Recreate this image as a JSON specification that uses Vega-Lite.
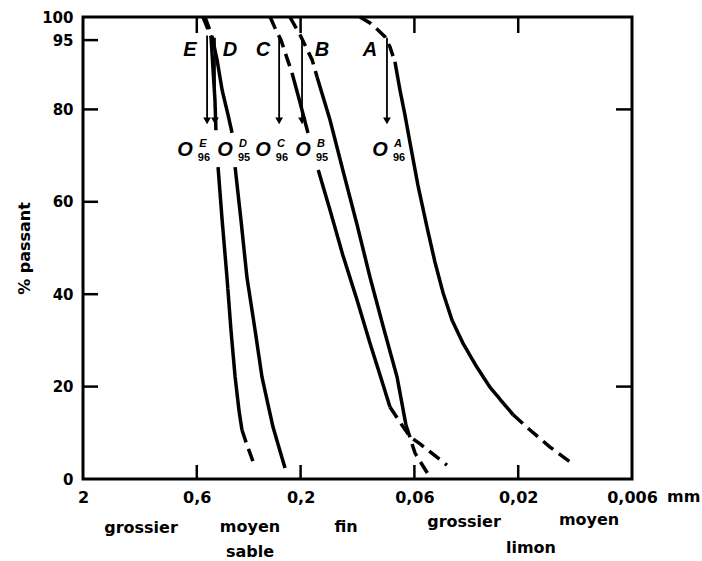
{
  "$schema": "https://vega.github.io/schema/vega-lite/v6.json",
  "width": 549,
  "height": 462,
  "autosize": {"type": "none"},
  "padding": {"left": 83, "top": 17, "right": 70, "bottom": 82},
  "background": "white",
  "config": {
    "view": {"stroke": "black", "strokeWidth": 3},
    "font": "DejaVu Sans"
  },
  "datasets": {
    "courbes": [
      {"courbe": "E", "segment": "E1", "trace": "extrapolée", "diametre": 0.562, "passant": 100},
      {"courbe": "E", "segment": "E1", "trace": "extrapolée", "diametre": 0.538, "passant": 97.8},
      {"courbe": "E", "segment": "E1", "trace": "extrapolée", "diametre": 0.516, "passant": 95.7},
      {"courbe": "E", "segment": "E2", "trace": "mesurée", "diametre": 0.516, "passant": 95.7},
      {"courbe": "E", "segment": "E2", "trace": "mesurée", "diametre": 0.505, "passant": 88.5},
      {"courbe": "E", "segment": "E2", "trace": "mesurée", "diametre": 0.495, "passant": 82.0},
      {"courbe": "E", "segment": "E2", "trace": "mesurée", "diametre": 0.490, "passant": 75.5},
      {"courbe": "E", "segment": "E3", "trace": "mesurée", "diametre": 0.479, "passant": 67.5},
      {"courbe": "E", "segment": "E3", "trace": "mesurée", "diametre": 0.459, "passant": 56.1},
      {"courbe": "E", "segment": "E3", "trace": "mesurée", "diametre": 0.436, "passant": 43.7},
      {"courbe": "E", "segment": "E3", "trace": "mesurée", "diametre": 0.418, "passant": 32.3},
      {"courbe": "E", "segment": "E3", "trace": "mesurée", "diametre": 0.400, "passant": 22.1},
      {"courbe": "E", "segment": "E3", "trace": "mesurée", "diametre": 0.384, "passant": 14.9},
      {"courbe": "E", "segment": "E3", "trace": "mesurée", "diametre": 0.372, "passant": 10.6},
      {"courbe": "E", "segment": "E4", "trace": "extrapolée", "diametre": 0.372, "passant": 10.6},
      {"courbe": "E", "segment": "E4", "trace": "extrapolée", "diametre": 0.353, "passant": 7.4},
      {"courbe": "E", "segment": "E4", "trace": "extrapolée", "diametre": 0.324, "passant": 2.6},

      {"courbe": "D", "segment": "D1", "trace": "extrapolée", "diametre": 0.550, "passant": 100},
      {"courbe": "D", "segment": "D1", "trace": "extrapolée", "diametre": 0.511, "passant": 95.9},
      {"courbe": "D", "segment": "D2", "trace": "mesurée", "diametre": 0.511, "passant": 95.9},
      {"courbe": "D", "segment": "D2", "trace": "mesurée", "diametre": 0.484, "passant": 90.7},
      {"courbe": "D", "segment": "D2", "trace": "mesurée", "diametre": 0.459, "passant": 84.2},
      {"courbe": "D", "segment": "D2", "trace": "mesurée", "diametre": 0.431, "passant": 78.8},
      {"courbe": "D", "segment": "D2", "trace": "mesurée", "diametre": 0.413, "passant": 74.9},
      {"courbe": "D", "segment": "D3", "trace": "mesurée", "diametre": 0.400, "passant": 67.5},
      {"courbe": "D", "segment": "D3", "trace": "mesurée", "diametre": 0.376, "passant": 56.1},
      {"courbe": "D", "segment": "D3", "trace": "mesurée", "diametre": 0.353, "passant": 43.7},
      {"courbe": "D", "segment": "D3", "trace": "mesurée", "diametre": 0.324, "passant": 32.3},
      {"courbe": "D", "segment": "D3", "trace": "mesurée", "diametre": 0.301, "passant": 22.1},
      {"courbe": "D", "segment": "D3", "trace": "mesurée", "diametre": 0.282, "passant": 16.0},
      {"courbe": "D", "segment": "D3", "trace": "mesurée", "diametre": 0.268, "passant": 11.3},
      {"courbe": "D", "segment": "D3", "trace": "mesurée", "diametre": 0.251, "passant": 6.7},
      {"courbe": "D", "segment": "D3", "trace": "mesurée", "diametre": 0.236, "passant": 2.4},

      {"courbe": "C", "segment": "C1", "trace": "extrapolée", "diametre": 0.276, "passant": 100},
      {"courbe": "C", "segment": "C1", "trace": "extrapolée", "diametre": 0.260, "passant": 97.2},
      {"courbe": "C", "segment": "C1", "trace": "extrapolée", "diametre": 0.246, "passant": 95.0},
      {"courbe": "C", "segment": "C1", "trace": "extrapolée", "diametre": 0.231, "passant": 91.1},
      {"courbe": "C", "segment": "C1", "trace": "extrapolée", "diametre": 0.219, "passant": 87.9},
      {"courbe": "C", "segment": "C2", "trace": "mesurée", "diametre": 0.219, "passant": 87.9},
      {"courbe": "C", "segment": "C2", "trace": "mesurée", "diametre": 0.201, "passant": 81.4},
      {"courbe": "C", "segment": "C2", "trace": "mesurée", "diametre": 0.185, "passant": 74.9},
      {"courbe": "C", "segment": "C3", "trace": "mesurée", "diametre": 0.166, "passant": 66.9},
      {"courbe": "C", "segment": "C3", "trace": "mesurée", "diametre": 0.1465, "passant": 58.2},
      {"courbe": "C", "segment": "C3", "trace": "mesurée", "diametre": 0.128, "passant": 48.5},
      {"courbe": "C", "segment": "C3", "trace": "mesurée", "diametre": 0.110, "passant": 38.7},
      {"courbe": "C", "segment": "C3", "trace": "mesurée", "diametre": 0.096, "passant": 29.4},
      {"courbe": "C", "segment": "C3", "trace": "mesurée", "diametre": 0.0863, "passant": 22.5},
      {"courbe": "C", "segment": "C3", "trace": "mesurée", "diametre": 0.0777, "passant": 15.6},
      {"courbe": "C", "segment": "C4", "trace": "extrapolée", "diametre": 0.0777, "passant": 15.6},
      {"courbe": "C", "segment": "C4", "trace": "extrapolée", "diametre": 0.0699, "passant": 12.3},
      {"courbe": "C", "segment": "C4", "trace": "extrapolée", "diametre": 0.0628, "passant": 9.1},
      {"courbe": "C", "segment": "C4", "trace": "extrapolée", "diametre": 0.0565, "passant": 7.6},
      {"courbe": "C", "segment": "C4", "trace": "extrapolée", "diametre": 0.0425, "passant": 3.0},

      {"courbe": "B", "segment": "B1", "trace": "extrapolée", "diametre": 0.224, "passant": 100},
      {"courbe": "B", "segment": "B1", "trace": "extrapolée", "diametre": 0.201, "passant": 96.1},
      {"courbe": "B", "segment": "B1", "trace": "extrapolée", "diametre": 0.177, "passant": 90.7},
      {"courbe": "B", "segment": "B1", "trace": "extrapolée", "diametre": 0.168, "passant": 87.0},
      {"courbe": "B", "segment": "B2", "trace": "mesurée", "diametre": 0.168, "passant": 87.0},
      {"courbe": "B", "segment": "B2", "trace": "mesurée", "diametre": 0.1465, "passant": 77.7},
      {"courbe": "B", "segment": "B2", "trace": "mesurée", "diametre": 0.128, "passant": 66.9},
      {"courbe": "B", "segment": "B2", "trace": "mesurée", "diametre": 0.110, "passant": 55.0},
      {"courbe": "B", "segment": "B2", "trace": "mesurée", "diametre": 0.096, "passant": 43.7},
      {"courbe": "B", "segment": "B2", "trace": "mesurée", "diametre": 0.0827, "passant": 32.3},
      {"courbe": "B", "segment": "B2", "trace": "mesurée", "diametre": 0.0721, "passant": 22.1},
      {"courbe": "B", "segment": "B2", "trace": "mesurée", "diametre": 0.0656, "passant": 11.7},
      {"courbe": "B", "segment": "B3", "trace": "extrapolée", "diametre": 0.0656, "passant": 11.7},
      {"courbe": "B", "segment": "B3", "trace": "extrapolée", "diametre": 0.0596, "passant": 5.6},
      {"courbe": "B", "segment": "B3", "trace": "extrapolée", "diametre": 0.0509, "passant": 0.4},

      {"courbe": "A", "segment": "A1", "trace": "extrapolée", "diametre": 0.1067, "passant": 100},
      {"courbe": "A", "segment": "A1", "trace": "extrapolée", "diametre": 0.0960, "passant": 98.7},
      {"courbe": "A", "segment": "A1", "trace": "extrapolée", "diametre": 0.0882, "passant": 97.2},
      {"courbe": "A", "segment": "A1", "trace": "extrapolée", "diametre": 0.0819, "passant": 95.7},
      {"courbe": "A", "segment": "A1", "trace": "extrapolée", "diametre": 0.0777, "passant": 93.5},
      {"courbe": "A", "segment": "A1", "trace": "extrapolée", "diametre": 0.0737, "passant": 90.3},
      {"courbe": "A", "segment": "A2", "trace": "mesurée", "diametre": 0.0737, "passant": 90.3},
      {"courbe": "A", "segment": "A2", "trace": "mesurée", "diametre": 0.0699, "passant": 84.2},
      {"courbe": "A", "segment": "A2", "trace": "mesurée", "diametre": 0.0663, "passant": 78.8},
      {"courbe": "A", "segment": "A2", "trace": "mesurée", "diametre": 0.0628, "passant": 72.7},
      {"courbe": "A", "segment": "A2", "trace": "mesurée", "diametre": 0.0578, "passant": 63.6},
      {"courbe": "A", "segment": "A2", "trace": "mesurée", "diametre": 0.0525, "passant": 54.5},
      {"courbe": "A", "segment": "A2", "trace": "mesurée", "diametre": 0.0483, "passant": 47.0},
      {"courbe": "A", "segment": "A2", "trace": "mesurée", "diametre": 0.0443, "passant": 40.3},
      {"courbe": "A", "segment": "A2", "trace": "mesurée", "diametre": 0.0403, "passant": 34.4},
      {"courbe": "A", "segment": "A2", "trace": "mesurée", "diametre": 0.0359, "passant": 29.4},
      {"courbe": "A", "segment": "A2", "trace": "mesurée", "diametre": 0.03125, "passant": 24.5},
      {"courbe": "A", "segment": "A2", "trace": "mesurée", "diametre": 0.0270, "passant": 19.9},
      {"courbe": "A", "segment": "A2", "trace": "mesurée", "diametre": 0.0237, "passant": 16.7},
      {"courbe": "A", "segment": "A2", "trace": "mesurée", "diametre": 0.0211, "passant": 13.9},
      {"courbe": "A", "segment": "A3", "trace": "extrapolée", "diametre": 0.0211, "passant": 13.9},
      {"courbe": "A", "segment": "A3", "trace": "extrapolée", "diametre": 0.01765, "passant": 10.6},
      {"courbe": "A", "segment": "A3", "trace": "extrapolée", "diametre": 0.01428, "passant": 6.9},
      {"courbe": "A", "segment": "A3", "trace": "extrapolée", "diametre": 0.01156, "passant": 3.7}
    ],
    "fleches": [
      {"courbe": "E", "diametre": 0.538, "haut": 96.0, "bas": 77.5},
      {"courbe": "D", "diametre": 0.495, "haut": 95.5, "bas": 77.5},
      {"courbe": "C", "diametre": 0.251, "haut": 95.5, "bas": 77.5},
      {"courbe": "B", "diametre": 0.197, "haut": 95.5, "bas": 77.5},
      {"courbe": "A", "diametre": 0.0802, "haut": 95.5, "bas": 77.5}
    ],
    "lettres": [
      {"courbe": "E", "diametre": 0.645, "passant": 92.9},
      {"courbe": "D", "diametre": 0.422, "passant": 92.9},
      {"courbe": "C", "diametre": 0.298, "passant": 92.9},
      {"courbe": "B", "diametre": 0.1595, "passant": 92.9},
      {"courbe": "A", "diametre": 0.096, "passant": 92.9}
    ],
    "ouvertures": [
      {"courbe": "E", "indice": "96", "diametre": 0.680, "passant": 71.2},
      {"courbe": "D", "indice": "95", "diametre": 0.445, "passant": 71.2},
      {"courbe": "C", "indice": "96", "diametre": 0.298, "passant": 71.2},
      {"courbe": "B", "indice": "95", "diametre": 0.195, "passant": 71.2},
      {"courbe": "A", "indice": "96", "diametre": 0.0863, "passant": 71.2}
    ],
    "classes": [
      {"texte": "grossier", "diametre": 1.083, "passant": -10.6},
      {"texte": "moyen", "diametre": 0.3416, "passant": -10.4},
      {"texte": "sable", "diametre": 0.3416, "passant": -15.8},
      {"texte": "fin", "diametre": 0.1237, "passant": -10.4},
      {"texte": "grossier", "diametre": 0.0355, "passant": -9.3},
      {"texte": "limon", "diametre": 0.01747, "passant": -14.9},
      {"texte": "moyen", "diametre": 0.00945, "passant": -8.9}
    ],
    "unite": [
      {"texte": "mm", "diametre": 0.006, "passant": 0}
    ],
    "graduations_y": [
      {"cote": "gauche", "passant": 95},
      {"cote": "gauche", "passant": 80},
      {"cote": "gauche", "passant": 60},
      {"cote": "gauche", "passant": 40},
      {"cote": "gauche", "passant": 20},
      {"cote": "droite", "passant": 80},
      {"cote": "droite", "passant": 20}
    ],
    "graduations_x": [
      {"cote": "bas", "diametre": 0.6},
      {"cote": "bas", "diametre": 0.2},
      {"cote": "bas", "diametre": 0.06},
      {"cote": "bas", "diametre": 0.02},
      {"cote": "haut", "diametre": 0.6},
      {"cote": "haut", "diametre": 0.2},
      {"cote": "haut", "diametre": 0.06},
      {"cote": "haut", "diametre": 0.02}
    ]
  },
  "resolve": {"axis": {"x": "independent", "y": "independent"}},
  "layer": [
    {
      "data": {"name": "courbes"},
      "mark": {"type": "line", "color": "black", "strokeWidth": 3.5, "strokeCap": "butt"},
      "encoding": {
        "x": {
          "field": "diametre", "type": "quantitative",
          "scale": {"type": "log", "domain": [2, 0.006], "nice": false},
          "axis": {
            "orient": "bottom", "title": null,
            "values": [2, 0.6, 0.2, 0.06, 0.02, 0.006],
            "labelExpr": "replace(format(datum.value, '~g'), '.', ',')",
            "domain": false, "ticks": false, "grid": false,
            "labelFont": "DejaVu Sans", "labelFontWeight": "bold", "labelFontSize": 16,
            "labelColor": "black", "labelPadding": 10, "labelOverlap": false,
            "labelFlush": false, "labelBound": false
          }
        },
        "y": {
          "field": "passant", "type": "quantitative",
          "scale": {"domain": [0, 100], "nice": false, "zero": false},
          "axis": {
            "orient": "left", "title": "% passant",
            "values": [0, 20, 40, 60, 80, 95, 100],
            "domain": false, "ticks": false, "grid": false,
            "labelFont": "DejaVu Sans", "labelFontWeight": "bold", "labelFontSize": 15,
            "labelColor": "black", "labelPadding": 10, "labelOverlap": false,
            "labelFlush": false, "labelBound": false,
            "titleFont": "DejaVu Sans", "titleFontWeight": "bold", "titleFontSize": 16,
            "titleColor": "black", "titleAngle": -90, "titleX": -59, "titleY": 231,
            "titleAlign": "center", "titleBaseline": "middle"
          }
        },
        "detail": {"field": "segment"},
        "strokeDash": {
          "field": "trace", "type": "nominal",
          "scale": {"domain": ["mesurée", "extrapolée"], "range": [[1, 0], [13, 7]]},
          "legend": null
        },
        "order": {"field": "passant", "sort": "descending"}
      }
    },
    {
      "data": {"name": "graduations_y"},
      "transform": [{"filter": "datum.cote === 'gauche'"}],
      "mark": {"type": "tick", "orient": "horizontal", "color": "black", "size": 15, "thickness": 2.5, "xOffset": 7.5, "opacity": 1},
      "encoding": {
        "x": {"datum": 2, "type": "quantitative", "scale": {"type": "log", "domain": [2, 0.006], "nice": false}, "axis": null},
        "y": {"field": "passant", "type": "quantitative", "scale": {"domain": [0, 100], "nice": false, "zero": false}, "axis": null}
      }
    },
    {
      "data": {"name": "graduations_y"},
      "transform": [{"filter": "datum.cote === 'droite'"}],
      "mark": {"type": "tick", "orient": "horizontal", "color": "black", "size": 16, "thickness": 2.5, "xOffset": -8, "opacity": 1},
      "encoding": {
        "x": {"datum": 0.006, "type": "quantitative", "scale": {"type": "log", "domain": [2, 0.006], "nice": false}, "axis": null},
        "y": {"field": "passant", "type": "quantitative", "scale": {"domain": [0, 100], "nice": false, "zero": false}, "axis": null}
      }
    },
    {
      "data": {"name": "graduations_x"},
      "transform": [{"filter": "datum.cote === 'bas'"}],
      "mark": {"type": "tick", "orient": "vertical", "color": "black", "size": 14, "thickness": 2.5, "yOffset": -7, "opacity": 1},
      "encoding": {
        "x": {"field": "diametre", "type": "quantitative", "scale": {"type": "log", "domain": [2, 0.006], "nice": false}, "axis": null},
        "y": {"datum": 0, "type": "quantitative", "scale": {"domain": [0, 100], "nice": false, "zero": false}, "axis": null}
      }
    },
    {
      "data": {"name": "graduations_x"},
      "transform": [{"filter": "datum.cote === 'haut'"}],
      "mark": {"type": "tick", "orient": "vertical", "color": "black", "size": 16, "thickness": 2.5, "yOffset": 8, "opacity": 1},
      "encoding": {
        "x": {"field": "diametre", "type": "quantitative", "scale": {"type": "log", "domain": [2, 0.006], "nice": false}, "axis": null},
        "y": {"datum": 100, "type": "quantitative", "scale": {"domain": [0, 100], "nice": false, "zero": false}, "axis": null}
      }
    },
    {
      "data": {"name": "fleches"},
      "mark": {"type": "rule", "color": "black", "strokeWidth": 1.8},
      "encoding": {
        "x": {"field": "diametre", "type": "quantitative", "scale": {"type": "log", "domain": [2, 0.006], "nice": false}, "axis": null},
        "y": {"field": "haut", "type": "quantitative", "scale": {"domain": [0, 100], "nice": false, "zero": false}, "axis": null},
        "y2": {"field": "bas"}
      }
    },
    {
      "data": {"name": "fleches"},
      "mark": {"type": "point", "shape": "triangle-down", "filled": true, "color": "black", "size": 60, "opacity": 1},
      "encoding": {
        "x": {"field": "diametre", "type": "quantitative", "scale": {"type": "log", "domain": [2, 0.006], "nice": false}, "axis": null},
        "y": {"field": "bas", "type": "quantitative", "scale": {"domain": [0, 100], "nice": false, "zero": false}, "axis": null}
      }
    },
    {
      "data": {"name": "lettres"},
      "mark": {"type": "text", "font": "Liberation Sans", "fontWeight": "bold", "fontStyle": "italic", "fontSize": 20, "color": "black", "align": "center", "baseline": "middle"},
      "encoding": {
        "x": {"field": "diametre", "type": "quantitative", "scale": {"type": "log", "domain": [2, 0.006], "nice": false}, "axis": null},
        "y": {"field": "passant", "type": "quantitative", "scale": {"domain": [0, 100], "nice": false, "zero": false}, "axis": null},
        "text": {"field": "courbe"}
      }
    },
    {
      "data": {"name": "ouvertures"},
      "mark": {"type": "text", "font": "Liberation Sans", "fontWeight": "bold", "fontStyle": "italic", "fontSize": 20, "color": "black", "align": "center", "baseline": "middle"},
      "encoding": {
        "x": {"field": "diametre", "type": "quantitative", "scale": {"type": "log", "domain": [2, 0.006], "nice": false}, "axis": null},
        "y": {"field": "passant", "type": "quantitative", "scale": {"domain": [0, 100], "nice": false, "zero": false}, "axis": null},
        "text": {"value": "O"}
      }
    },
    {
      "data": {"name": "ouvertures"},
      "mark": {"type": "text", "font": "Liberation Sans", "fontWeight": "bold", "fontStyle": "italic", "fontSize": 11, "color": "black", "align": "center", "baseline": "middle", "dx": 18, "dy": -6},
      "encoding": {
        "x": {"field": "diametre", "type": "quantitative", "scale": {"type": "log", "domain": [2, 0.006], "nice": false}, "axis": null},
        "y": {"field": "passant", "type": "quantitative", "scale": {"domain": [0, 100], "nice": false, "zero": false}, "axis": null},
        "text": {"field": "courbe"}
      }
    },
    {
      "data": {"name": "ouvertures"},
      "mark": {"type": "text", "font": "Liberation Sans", "fontWeight": "bold", "fontSize": 11, "color": "black", "align": "center", "baseline": "middle", "dx": 19, "dy": 8},
      "encoding": {
        "x": {"field": "diametre", "type": "quantitative", "scale": {"type": "log", "domain": [2, 0.006], "nice": false}, "axis": null},
        "y": {"field": "passant", "type": "quantitative", "scale": {"domain": [0, 100], "nice": false, "zero": false}, "axis": null},
        "text": {"field": "indice"}
      }
    },
    {
      "data": {"name": "classes"},
      "mark": {"type": "text", "font": "DejaVu Sans", "fontWeight": "bold", "fontSize": 16, "color": "black", "align": "center", "baseline": "middle"},
      "encoding": {
        "x": {"field": "diametre", "type": "quantitative", "scale": {"type": "log", "domain": [2, 0.006], "nice": false}, "axis": null},
        "y": {"field": "passant", "type": "quantitative", "scale": {"domain": [0, 100], "nice": false, "zero": false}, "axis": null},
        "text": {"field": "texte"}
      }
    },
    {
      "data": {"name": "unite"},
      "mark": {"type": "text", "font": "DejaVu Sans", "fontWeight": "bold", "fontSize": 16, "color": "black", "align": "left", "baseline": "middle", "dx": 35, "dy": 18},
      "encoding": {
        "x": {"field": "diametre", "type": "quantitative", "scale": {"type": "log", "domain": [2, 0.006], "nice": false}, "axis": null},
        "y": {"field": "passant", "type": "quantitative", "scale": {"domain": [0, 100], "nice": false, "zero": false}, "axis": null},
        "text": {"field": "texte"}
      }
    }
  ]
}
